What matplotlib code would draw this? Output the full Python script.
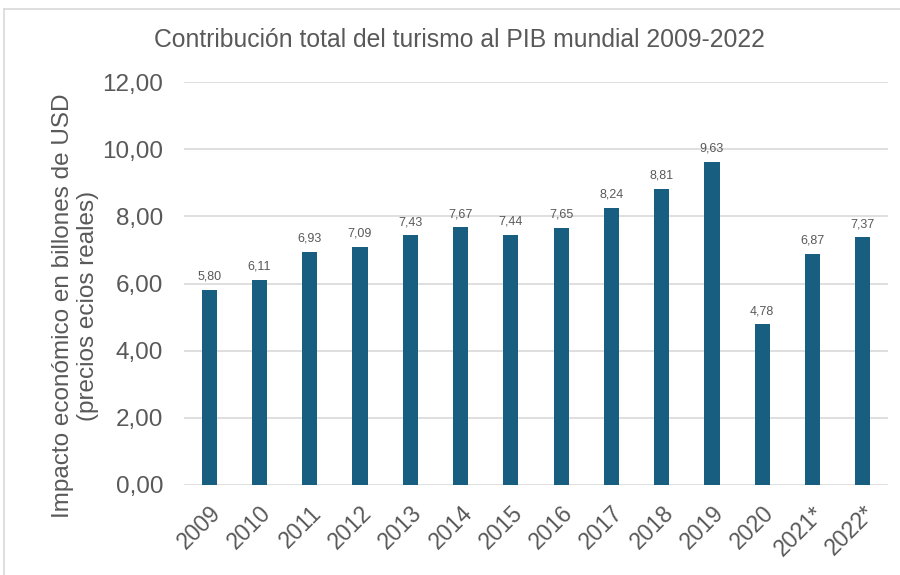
import matplotlib.pyplot as plt
from matplotlib.lines import Line2D

years = ['2009', '2010', '2011', '2012', '2013', '2014', '2015', '2016',
         '2017', '2018', '2019', '2020', '2021*', '2022*']
valores = [5.80, 6.11, 6.93, 7.09, 7.43, 7.67, 7.44, 7.65,
           8.24, 8.81, 9.63, 4.78, 6.87, 7.37]
yticks = [0, 2, 4, 6, 8, 10, 12]

plt.rcParams['font.family'] = ['Liberation Sans', 'DejaVu Sans']

fig = plt.figure(figsize=(9, 5.75), dpi=100)
ax = fig.add_axes([184 / 900, 1 - 485 / 575, 704 / 900, 403 / 575])

x = range(len(years))
bars = ax.bar(x, valores, width=0.3, color='#175E80', zorder=3)

for b, v in zip(bars, valores):
    ax.text(b.get_x() + b.get_width() / 2, v + 0.22, f'{v:.2f}'.replace('.', ','),
            ha='center', va='bottom', fontsize=9, color='#595959')

ax.set_ylim(0, 12)
ax.set_xlim(-0.5, len(years) - 0.5)
ax.set_yticks(yticks)
ax.set_yticklabels([f'{t:.2f}'.replace('.', ',') for t in yticks],
                   fontsize=17.5, color='#595959')
ax.set_xticks(list(x))
ax.set_xticklabels(years, rotation=45, ha='right', rotation_mode='anchor',
                   fontsize=16.5, color='#595959')
ax.tick_params(axis='y', length=0, pad=15)
ax.tick_params(axis='x', length=0, pad=12)
ax.grid(axis='y', color='#D9D9D9', linewidth=1.2, zorder=0)
for s in ax.spines.values():
    s.set_visible(False)

ax.set_ylabel('Impacto económico en billones de USD\n(precios ecios reales)',
              fontsize=17.5, color='#595959', linespacing=1.15)
ax.yaxis.set_label_coords(-0.121, 0.444)
fig.text(459.5 / 900, 1 - 40 / 575, 'Contribución total del turismo al PIB mundial 2009-2022',
         ha='center', va='center', fontsize=17.8, color='#595959')

# marco gris de la captura
fig.add_artist(Line2D([4 / 900, 1], [1 - 9 / 575, 1 - 9 / 575], color='#D9D9D9', lw=1.2))
fig.add_artist(Line2D([4 / 900, 4 / 900], [0, 1 - 9 / 575], color='#D9D9D9', lw=1.2))

fig.savefig('out.png', dpi=100)
